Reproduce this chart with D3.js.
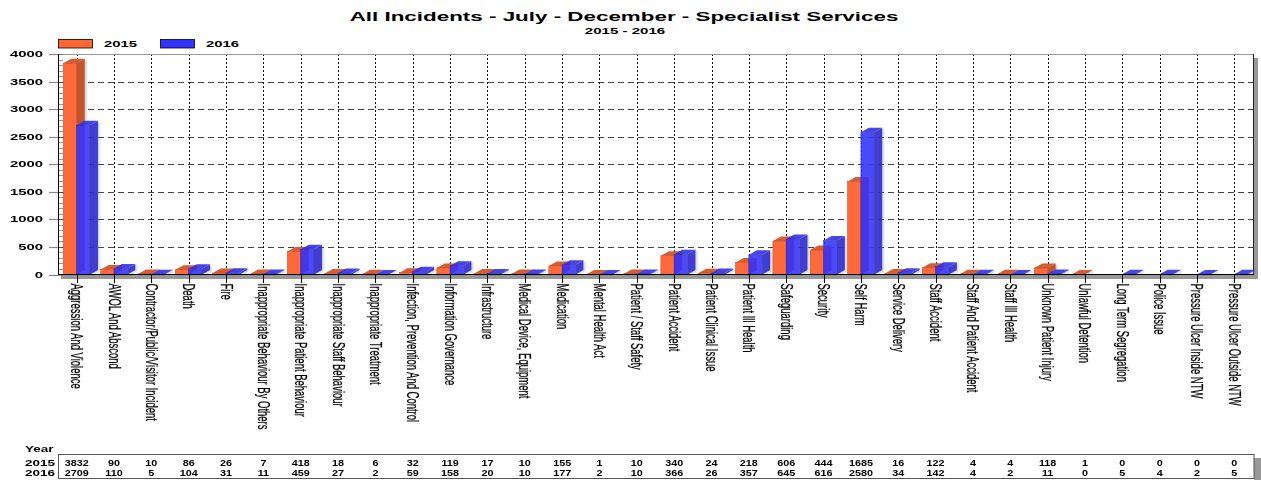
<!DOCTYPE html>
<html>
<head>
<meta charset="utf-8">
<script src="https://cdn.jsdelivr.net/npm/d3@7"></script>
<style>
  body { margin: 0; background: #fff; }
  svg { display: block; }
  text { font-family: "Liberation Sans", Arial, Helvetica, sans-serif; fill: #000; }
</style>
</head>
<body>
<svg id="chart" width="1261" height="480"></svg>
<script>
// chart data
var categories = [
  "Aggression And Violence", "AWOL And Abscond", "Contractor/Public/Visitor Incident",
  "Death", "Fire", "Inappropriate Behaviour By Others", "Inappropriate Patient Behaviour",
  "Inappropriate Staff Behaviour", "Inappropriate Treatment", "Infection, Prevention And Control",
  "Information Governance", "Infrastructure", "Medical Device, Equipment", "Medication",
  "Mental Health Act", "Patient / Staff Safety", "Patient Accident", "Patient Clinical Issue",
  "Patient Ill Health", "Safeguarding", "Security", "Self Harm", "Service Delivery",
  "Staff Accident", "Staff And Patient Accident", "Staff Ill Health", "Unknown Patient Injury",
  "Unlawful Detention", "Long Term Segregation", "Police Issue", "Pressure Ulcer Inside NTW",
  "Pressure Ulcer Outside NTW"
];
var values2015 = [3832, 90, 10, 86, 26, 7, 418, 18, 6, 32, 119, 17, 10, 155, 1, 10, 340, 24,
  218, 606, 444, 1685, 16, 122, 4, 4, 118, 1, 0, 0, 0, 0];
var values2016 = [2709, 110, 5, 104, 31, 11, 459, 27, 2, 59, 158, 20, 10, 177, 2, 10, 366, 26,
  357, 645, 616, 2580, 34, 142, 4, 2, 11, 0, 5, 4, 2, 5];
var seriesNames = ["2015", "2016"];
var yTicks = [0, 500, 1000, 1500, 2000, 2500, 3000, 3500, 4000];

var svg = d3.select("svg#chart"),
  pl = 58, pr = 1253, pt = 54, pb = 274.5,
  sx = 1.75; // the text in the original is stretched sideways

var x = d3.scaleBand().domain(categories).range([pl, pr]).padding(0);
var y = d3.scaleLinear().domain([0, 4000]).range([pb, pt]);

var colors = [
  { front: "#ff6a3c", side: "#c4522b", top: "#d65c33", line: "#b8441f", opacity: 1 },
  { front: "#3333ff", side: "#2a22d0", top: "#2d2de6", line: "#1c1ca8", opacity: 0.87 }
];
var legendColors = ["#ff6633", "#3333ff"];

var barW = 13.3, depthX = 8, depthY = 4.5;

function cx(c) { return x(c) + x.bandwidth() / 2; }

// drop shadow for the bars
var defs = svg.append("defs");
var f = defs.append("filter").attr("id", "shadow")
  .attr("x", "-20%").attr("y", "-5%").attr("width", "150%").attr("height", "115%");
f.append("feDropShadow").attr("dx", 1.5).attr("dy", 1).attr("stdDeviation", 1.2)
  .attr("flood-color", "#777").attr("flood-opacity", 0.45);

// title
svg.append("text")
  .attr("transform", "translate(624,21) scale(" + sx + ",1)")
  .attr("text-anchor", "middle")
  .attr("font-size", 12.8)
  .attr("font-weight", "bold")
  .text("All Incidents - July - December - Specialist Services");

svg.append("text")
  .attr("transform", "translate(625,34) scale(" + sx + ",1)")
  .attr("text-anchor", "middle")
  .attr("font-size", 8.6)
  .attr("font-weight", "bold")
  .text("2015 - 2016");

// legend
var legend = svg.append("g").selectAll("g")
  .data(seriesNames)
  .enter().append("g")
  .attr("transform", function (d, i) { return "translate(" + (58 + i * 102) + ",0)"; });

legend.append("rect")
  .attr("x", 0.5).attr("y", 39.5)
  .attr("width", 34).attr("height", 8.5)
  .attr("fill", function (d, i) { return legendColors[i]; })
  .attr("stroke", "#000").attr("stroke-width", 0.8);

legend.append("text")
  .attr("transform", "translate(46,47.2) scale(" + sx + ",1)")
  .attr("font-size", 8.5)
  .attr("font-weight", "bold")
  .text(function (d) { return d; });

// plot frame shadow
svg.append("rect").attr("x", pr).attr("y", pt + 4).attr("width", 5).attr("height", pb - pt)
  .attr("fill", "#999");
svg.append("rect").attr("x", pl + 3).attr("y", pb).attr("width", pr - pl + 2).attr("height", 4.5)
  .attr("fill", "#999");

// grid lines
var grid = svg.append("g");
grid.selectAll("line.h")
  .data(yTicks.filter(function (d) { return d > 0 && d < 4000; }))
  .enter().append("line")
  .attr("x1", pl).attr("x2", pr)
  .attr("y1", function (d) { return Math.round(y(d)) + 0.5; })
  .attr("y2", function (d) { return Math.round(y(d)) + 0.5; })
  .attr("stroke", "#444").attr("stroke-dasharray", "6,4");

grid.selectAll("line.v")
  .data(categories)
  .enter().append("line")
  .attr("x1", function (d) { return Math.round(cx(d)) + 0.5; })
  .attr("x2", function (d) { return Math.round(cx(d)) + 0.5; })
  .attr("y1", pt).attr("y2", pb)
  .attr("stroke", "#111").attr("stroke-dasharray", "2,2");

// frame
svg.append("line").attr("x1", pl).attr("x2", pr).attr("y1", pt + 0.5).attr("y2", pt + 0.5)
  .attr("stroke", "#999");
svg.append("line").attr("x1", pr + 0.5).attr("x2", pr + 0.5).attr("y1", pt).attr("y2", pb)
  .attr("stroke", "#222");

// 3d bars
var bars = svg.append("g").attr("filter", "url(#shadow)");
categories.forEach(function (c, i) {
  [values2015[i], values2016[i]].forEach(function (v, s) {
    if (!v) return;
    var x0 = s === 0 ? cx(c) - barW : cx(c),
      y1 = y(v), y0 = y(0),
      col = colors[s],
      g = bars.append("g").attr("opacity", col.opacity);
    g.append("polygon")
      .attr("points", [[x0 + barW, y1], [x0 + barW + depthX, y1 - depthY],
        [x0 + barW + depthX, y0 - depthY], [x0 + barW, y0]].join(" "))
      .attr("fill", col.side);
    g.append("polygon")
      .attr("points", [[x0, y1], [x0 + depthX, y1 - depthY],
        [x0 + barW + depthX, y1 - depthY], [x0 + barW, y1]].join(" "))
      .attr("fill", col.top);
    g.append("rect")
      .attr("x", x0).attr("y", y1)
      .attr("width", barW).attr("height", y0 - y1)
      .attr("fill", col.front)
      .attr("stroke", col.line).attr("stroke-width", 0.5);
  });
});

// y axis
var yAxis = svg.append("g");
yAxis.selectAll("line.major")
  .data(yTicks)
  .enter().append("line")
  .attr("x1", 49).attr("x2", pl)
  .attr("y1", function (d) { return Math.round(y(d)) + 0.5; })
  .attr("y2", function (d) { return Math.round(y(d)) + 0.5; })
  .attr("stroke", "#888").attr("stroke-width", 1.2);

yAxis.selectAll("line.minor")
  .data(d3.range(0, 4001, 100))
  .enter().append("line")
  .attr("x1", pl).attr("x2", pl + 5)
  .attr("y1", function (d) { return Math.round(y(d)) + 0.5; })
  .attr("y2", function (d) { return Math.round(y(d)) + 0.5; })
  .attr("stroke", "#555").attr("stroke-width", 0.6);

yAxis.selectAll("text")
  .data(yTicks)
  .enter().append("text")
  .attr("transform", function (d) { return "translate(43," + (y(d) + 3.1) + ") scale(" + sx + ",1)"; })
  .attr("text-anchor", "end")
  .attr("font-size", 8.5)
  .attr("font-weight", "bold")
  .text(function (d) { return d; });

svg.append("line").attr("x1", pl + 0.5).attr("x2", pl + 0.5).attr("y1", pt).attr("y2", pb)
  .attr("stroke", "#000");

// x axis
svg.append("line").attr("x1", pl).attr("x2", pr + 1).attr("y1", pb).attr("y2", pb)
  .attr("stroke", "#000");

var xAxis = svg.append("g");
xAxis.selectAll("line")
  .data(categories)
  .enter().append("line")
  .attr("x1", function (d) { return Math.round(cx(d)) + 0.5; })
  .attr("x2", function (d) { return Math.round(cx(d)) + 0.5; })
  .attr("y1", pb).attr("y2", 283)
  .attr("stroke", "#000");

xAxis.selectAll("text")
  .data(categories)
  .enter().append("text")
  .attr("transform", function (d) {
    return "translate(" + (cx(d) + 0.5) + ",283.5) scale(" + sx + ",1) rotate(90)";
  })
  .attr("dy", "0.36em")
  .attr("font-size", 9.5)
  .attr("stroke", "#000").attr("stroke-width", 0.15)
  .text(function (d) { return d; });

// data table
var table = svg.append("g");
table.append("rect").attr("x", 1254).attr("y", 458).attr("width", 8).attr("height", 22).attr("fill", "#999");
table.append("rect").attr("x", pl + 0.5).attr("y", 454.5).attr("width", pr - pl + 0.5).attr("height", 24)
  .attr("fill", "#fff").attr("stroke", "#555");

table.append("text")
  .attr("transform", "translate(25,451.5) scale(1.5,1)")
  .attr("font-size", 9).attr("font-weight", "bold")
  .text("Year");

[values2015, values2016].forEach(function (vals, s) {
  var rowY = 465.5 + s * 10;
  table.append("text")
    .attr("transform", "translate(25," + rowY + ") scale(1.5,1)")
    .attr("font-size", 9).attr("font-weight", "bold")
    .text(seriesNames[s]);
  table.selectAll("text.r" + s)
    .data(vals)
    .enter().append("text")
    .attr("class", "r" + s)
    .attr("transform", function (d, i) { return "translate(" + cx(categories[i]) + "," + rowY + ") scale(1.2,1)"; })
    .attr("text-anchor", "middle")
    .attr("font-size", 9).attr("font-weight", "bold")
    .text(function (d) { return d; });
});
</script>
</body>
</html>
